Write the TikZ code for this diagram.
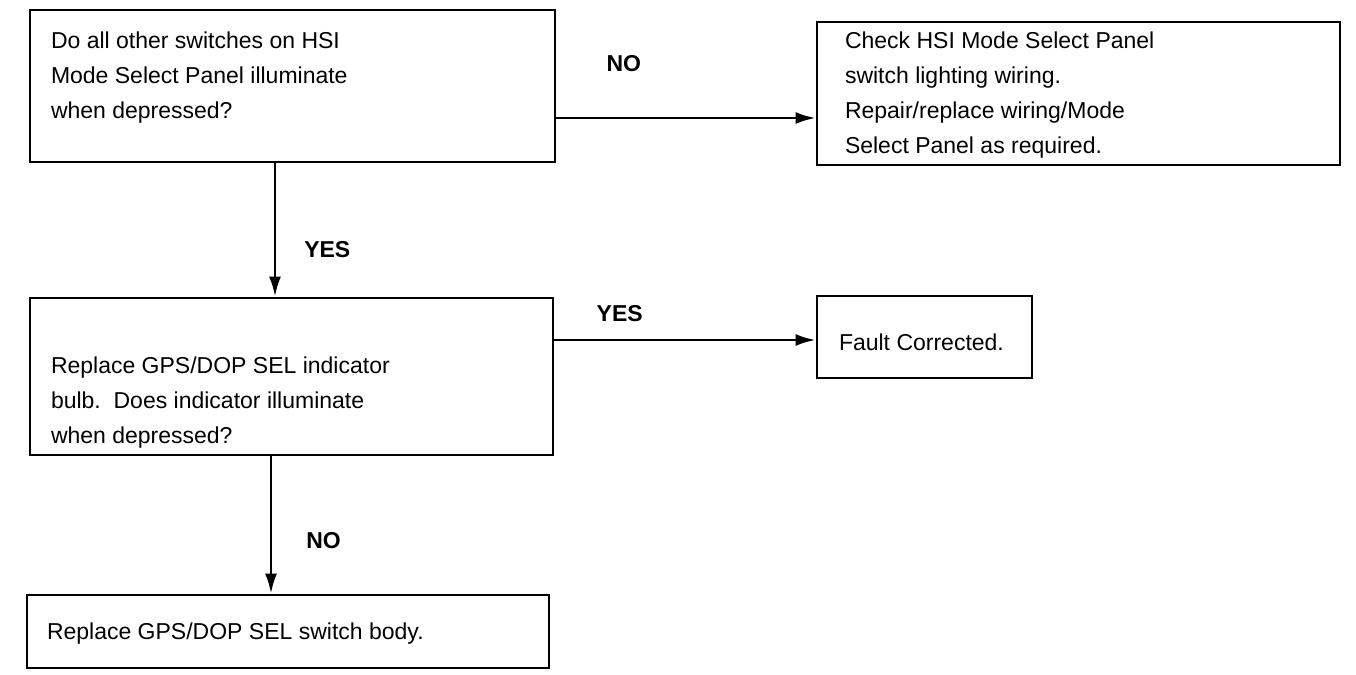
\documentclass[tikz,border=0pt]{standalone}
\usepackage{fontspec}
\setmainfont{Liberation Sans}
\usetikzlibrary{arrows.meta, positioning}

\begin{document}
\begin{tikzpicture}[x=0.5pt, y=-0.5pt,
  box/.style={draw, line width=1.4pt, inner sep=0pt},
  txt/.style={inner sep=0pt, align=left, font=\fontsize{11.5}{17.5}\selectfont},
  lbl/.style={inner sep=0pt, font=\fontsize{11.5}{14}\selectfont\bfseries},
  flow/.style={line width=1.3pt, -{Latex[length=10pt,width=6pt]}}]
\useasboundingbox (0,0) rectangle (1356,675);

% boxes
\node[box, minimum width=262.5pt, minimum height=76pt] (qA) at (292.5,86) {};
\node[box, minimum width=261.5pt, minimum height=71.5pt] (qB) at (1078.5,93.5) {};
\node[box, minimum width=261.5pt, minimum height=78.5pt] (qC) at (291.5,376.5) {};
\node[box, minimum width=107.5pt, minimum height=41pt] (qF) at (924.5,337) {};
\node[box, minimum width=261pt, minimum height=36.5pt] (qD) at (288,631.5) {};

% texts
\node[txt, below right=11.5pt and 11pt of qA.north west] (tA)
  {Do all other switches on HSI\\Mode Select Panel illuminate\\when depressed?};
\node[txt, below right=5.5pt and 14.5pt of qB.north west] (tB)
  {Check HSI Mode Select Panel\\switch lighting wiring.\\Repair/replace wiring/Mode\\Select Panel as required.};
\node[txt, below right=30pt and 11pt of qC.north west] (tC)
  {Replace GPS/DOP SEL indicator\\bulb.\ \ Does indicator illuminate\\when depressed?};
\node[txt, right=11.5pt of qF.west, yshift=-2.5pt] (tF) {Fault Corrected.};
\node[txt, right=10.5pt of qD.west, yshift=-1pt] (tD) {Replace GPS/DOP SEL switch body.};

% connectors
\draw[flow] ([yshift=-16pt]qA.east) coordinate (noA) -- (noA -| qB.west)
  node[lbl, pos=0.26, above=22.5pt] (lNoA) {NO};
\draw[flow] ([xshift=-8.75pt]qA.south) coordinate (yesA) -- (yesA |- qC.north)
  node[lbl, pos=0.65, right=14pt] (lYesA) {YES};
\draw[flow] ([yshift=18.25pt]qC.east) coordinate (yesC) -- (yesC -| qF.west)
  node[lbl, pos=0.25, above=8.5pt] (lYesC) {YES};
\draw[flow] ([xshift=-10.25pt]qC.south) coordinate (noC) -- (noC |- qD.north)
  node[lbl, pos=0.61, right=17pt] (lNoC) {NO};
\end{tikzpicture}
\end{document}
